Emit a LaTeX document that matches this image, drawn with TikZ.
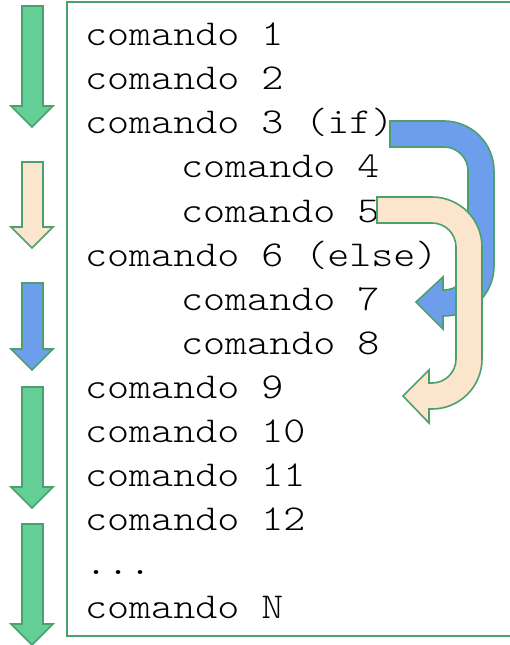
\documentclass[tikz,border=0pt]{standalone}
\usepackage{graphicx}
\definecolor{gfill}{RGB}{99,207,150}
\definecolor{gline}{RGB}{76,160,110}
\definecolor{bfill}{RGB}{109,158,235}
\definecolor{cfill}{RGB}{252,229,205}
\newcommand{\codetext}[1]{\scalebox{1.15}[1]{\ttfamily\fontseries{l}\fontsize{36.6pt}{44pt}\selectfont #1}}
\tikzset{
  outl/.style={draw=gline, line width=1.6bp, line join=miter},
  codeline/.style={anchor=base west, inner sep=0pt},
}
\begin{document}
\begin{tikzpicture}[x=1bp,y=-1bp]
\useasboundingbox (0,0) rectangle (510,645);
% frame
\draw[gline, line width=1.5bp] (67,2) rectangle (514,636);
% left arrows
\newcommand{\downarrowshape}[4]{% fill, top, base, tip
  \filldraw[outl, fill=#1] (22,#2) -- (43,#2) -- (43,#3) -- (53,#3) -- (32,#4) -- (11,#3) -- (22,#3) -- cycle;}
\downarrowshape{gfill}{6}{106}{127}
\downarrowshape{cfill}{162}{227}{248}
\downarrowshape{bfill}{283}{349}{370}
\downarrowshape{gfill}{387}{487}{508}
\downarrowshape{gfill}{524}{624}{645}
% text
\node[codeline] (l1) at (85,46) {\codetext{comando 1}};
\node[codeline] (l2) at (85,90) {\codetext{comando 2}};
\node[codeline] (l3) at (85,134) {\codetext{comando 3 (if)}};
\node[codeline] (l4) at (181,178) {\codetext{comando 4}};
\node[codeline] (l5) at (181,222) {\codetext{comando 5}};
\node[codeline] (l6) at (85,266) {\codetext{comando 6 (else)}};
\node[codeline] (l7) at (181,310) {\codetext{comando 7}};
\node[codeline] (l8) at (181,354) {\codetext{comando 8}};
\node[codeline] (l9) at (85,398) {\codetext{comando 9}};
\node[codeline] (l10) at (85,442) {\codetext{comando 10}};
\node[codeline] (l11) at (85,486) {\codetext{comando 11}};
\node[codeline] (l12) at (85,530) {\codetext{comando 12}};
\node[codeline] (l13) at (85,574) {\codetext{...}};
\node[codeline] (l14) at (85,618) {\codetext{comando N}};
% blue U-turn arrow (if -> else)
\filldraw[outl, fill=bfill]
  (390,121) -- (444,121) arc[start angle=-90, end angle=0, radius=50] -- (494,266)
  arc[start angle=0, end angle=90, radius=50] -- (443,316) -- (443,329) -- (416,302)
  -- (443,277) -- (443,290) -- (444,290)
  arc[start angle=90, end angle=0, radius=24] -- (468,171)
  arc[start angle=0, end angle=-90, radius=24] -- (390,147) -- cycle;
% cream U-turn arrow (after if-block -> comando 9)
\filldraw[outl, fill=cfill]
  (377,197) -- (432,197) arc[start angle=-90, end angle=0, radius=50] -- (482,359)
  arc[start angle=0, end angle=90, radius=50] -- (429,409) -- (429,423) -- (403,396)
  -- (429,370) -- (429,383) -- (432,383)
  arc[start angle=90, end angle=0, radius=24] -- (456,247)
  arc[start angle=0, end angle=-90, radius=24] -- (377,223) -- cycle;
\end{tikzpicture}
\end{document}
